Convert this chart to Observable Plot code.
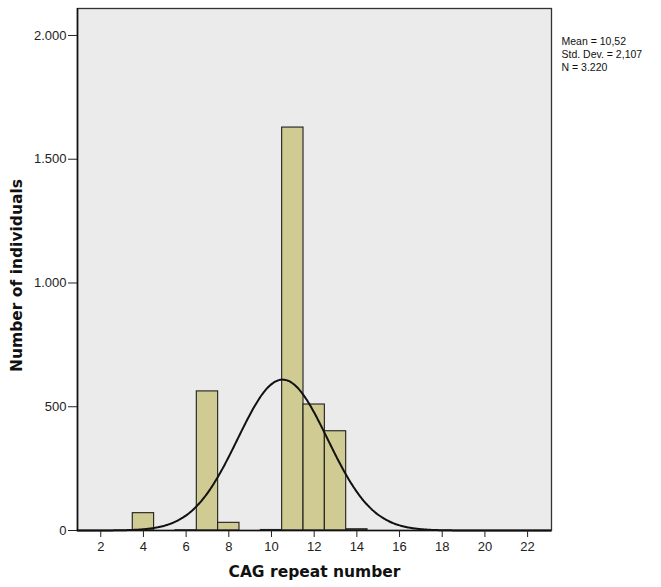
<!DOCTYPE html>
<html>
<head>
<meta charset="utf-8">
<script src="https://cdn.jsdelivr.net/npm/d3@7"></script>
<script src="https://cdn.jsdelivr.net/npm/@observablehq/plot@0.6"></script>
<style>
  html, body { margin: 0; padding: 0; background: #ffffff; }
  #chart { width: 661px; height: 587px; }
  svg { display: block; }
</style>
</head>
<body>
<div id="chart"></div>
<script>
// CAG repeat number (bin centres) and number of individuals per bin
const cagRepeats = [4, 6, 7, 8, 10, 11, 12, 13, 14];
const individuals = [70, 1, 562, 31, 2, 1628, 509, 401, 5];

// Summary statistics shown beside the chart
const statMean = 10.52;
const statSD = 2.107;
const statN = 3220;
const statLabels = ["Mean = 10,52", "Std. Dev. = 2,107", "N = 3.220"];

// Tick values
const xTicks = [2, 4, 6, 8, 10, 12, 14, 16, 18, 20, 22];
const yTicks = [0, 500, 1000, 1500, 2000];

const bins = cagRepeats.map((c, i) => ({x1: c - 0.5, x2: c + 0.5, count: individuals[i]}));

// Fitted normal curve (SPSS style) from the stated mean / sd / N, bin width 1
const curve = d3.range(0.9, 23.1001, 0.05).map(x => ({
  x,
  y: statN / (statSD * Math.sqrt(2 * Math.PI)) * Math.exp(-0.5 * ((x - statMean) / statSD) ** 2)
}));

const loc = d3.formatLocale({decimal: ",", thousands: ".", grouping: [3], currency: ["", ""]});
const fmt = loc.format(",d");

const titleFont = "DejaVu Sans, Verdana, sans-serif";

const chart = Plot.plot({
  width: 661,
  height: 587,
  marginLeft: 77,
  marginRight: 110,
  marginTop: 8,
  marginBottom: 57,
  style: {fontFamily: "Liberation Sans, Arial, sans-serif", fontSize: "13px", background: "#ffffff", overflow: "visible"},
  x: {domain: [0.91, 23.12]},
  y: {domain: [0, 2109]},
  marks: [
    Plot.frame({fill: "#ebebeb", stroke: null}),
    Plot.rectY(bins, {x1: "x1", x2: "x2", y: "count", fill: "#cfcb93", stroke: "#1e1e1e", strokeWidth: 1.1}),
    Plot.line(curve, {x: "x", y: "y", stroke: "#111111", strokeWidth: 2, curve: "basis"}),
    Plot.frame({stroke: "#333333", strokeWidth: 1.3}),
    Plot.ruleX([0.91], {stroke: "#111", strokeWidth: 1.6}),
    Plot.ruleY([0], {stroke: "#111", strokeWidth: 1.6}),
    Plot.axisY({ticks: yTicks, tickFormat: fmt, tickSize: 9, tickPadding: 2, fontSize: 13, color: "#222", label: null}),
    Plot.axisX({ticks: xTicks, tickSize: 7, tickPadding: 4, fontSize: 13, color: "#222", label: null}),
    Plot.text(["CAG repeat number"], {frameAnchor: "bottom", dy: 46, fontSize: 15.5, fontWeight: "bold", fontFamily: titleFont, fill: "#111"}),
    Plot.text(["Number of individuals"], {frameAnchor: "left", textAnchor: "middle", dx: -60, dy: 6, rotate: -90, fontSize: 15.5, fontWeight: "bold", fontFamily: titleFont, fill: "#111"}),
    Plot.text([statLabels[0]], {frameAnchor: "top-right", dx: 10, dy: 29, textAnchor: "start", fontSize: 10.5, fill: "#111"}),
    Plot.text([statLabels[1]], {frameAnchor: "top-right", dx: 10, dy: 42, textAnchor: "start", fontSize: 10.5, fill: "#111"}),
    Plot.text([statLabels[2]], {frameAnchor: "top-right", dx: 10, dy: 55, textAnchor: "start", fontSize: 10.5, fill: "#111"})
  ]
});
document.getElementById("chart").appendChild(chart);
</script>
</body>
</html>
